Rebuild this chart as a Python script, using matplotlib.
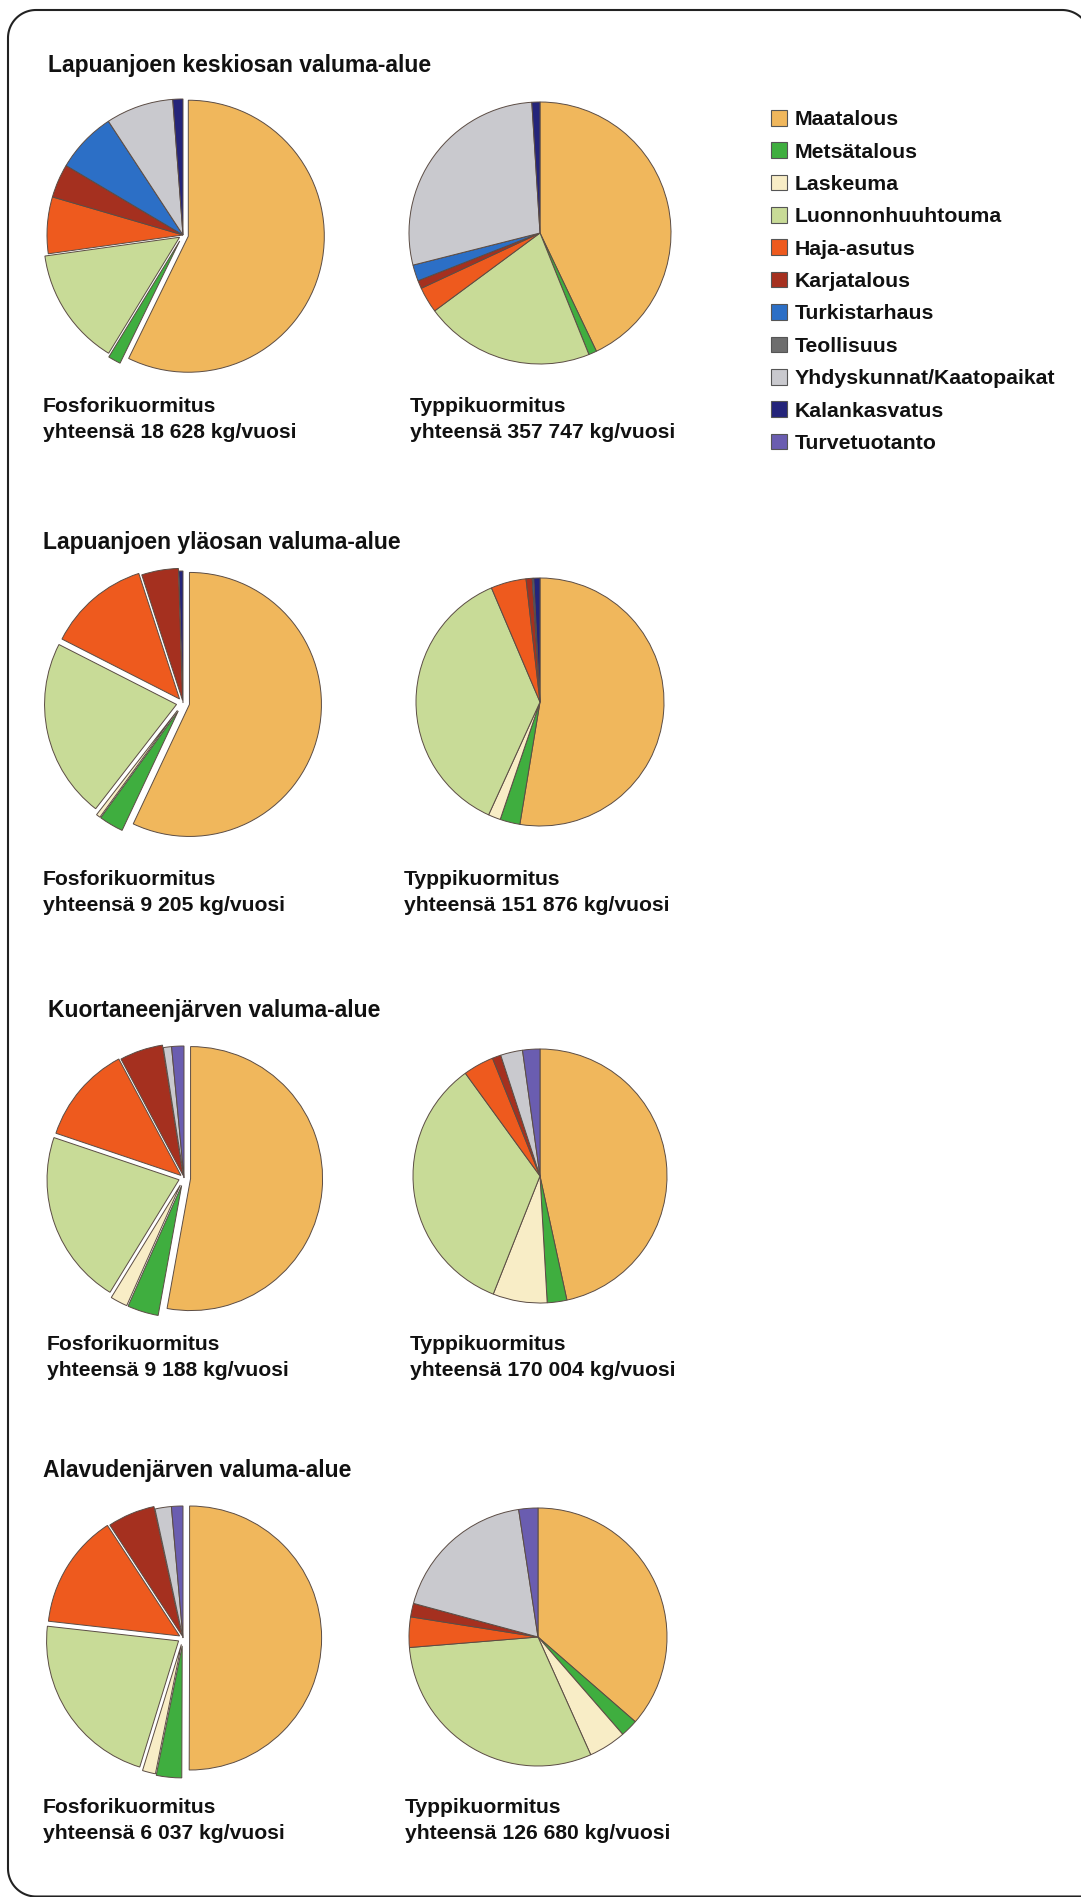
import numpy as np
import matplotlib
matplotlib.use("Agg")
import matplotlib.pyplot as plt
from matplotlib.patches import Patch, PathPatch
from matplotlib.path import Path
from matplotlib.transforms import IdentityTransform

# Load sources (share of total load, %) in clockwise order from 12 o'clock
categories = ["Maatalous", "Metsätalous", "Laskeuma", "Luonnonhuuhtouma",
              "Haja-asutus", "Karjatalous", "Turkistarhaus", "Teollisuus",
              "Yhdyskunnat/Kaatopaikat", "Kalankasvatus", "Turvetuotanto"]

areas = ["Lapuanjoen keskiosan valuma-alue",
         "Lapuanjoen yläosan valuma-alue",
         "Kuortaneenjärven valuma-alue",
         "Alavudenjärven valuma-alue"]

phosphorus_totals = ["18 628", "9 205", "9 188", "6 037"]
nitrogen_totals = ["357 747", "151 876", "170 004", "126 680"]

p_keskiosa = [57.0, 1.5, 0.0, 14.0, 6.7, 4.0, 7.2, 0.0, 8.0, 1.2, 0.0]
n_keskiosa = [43.0, 1.0, 0.0, 21.0, 3.2, 1.0, 2.0, 0.0, 28.0, 1.0, 0.0]
p_ylaosa = [57.0, 3.0, 0.5, 22.0, 12.5, 4.5, 0.0, 0.0, 0.0, 0.5, 0.0]
n_ylaosa = [52.6, 2.6, 1.6, 36.8, 4.6, 0.8, 0.2, 0.0, 0.0, 0.8, 0.0]
p_kuortane = [52.8, 3.8, 2.1, 21.4, 12.0, 5.3, 0.0, 0.0, 1.0, 0.0, 1.5]
n_kuortane = [46.6, 2.5, 6.9, 34.0, 3.9, 1.1, 0.0, 0.0, 2.8, 0.0, 2.2]
p_alavus = [50.0, 3.1, 1.6, 22.0, 14.0, 5.8, 0.0, 0.0, 2.0, 0.0, 1.4]
n_alavus = [36.4, 2.2, 4.7, 30.4, 3.8, 1.7, 0.0, 0.0, 18.4, 0.0, 2.4]

phosphorus = [p_keskiosa, p_ylaosa, p_kuortane, p_alavus]
nitrogen = [n_keskiosa, n_ylaosa, n_kuortane, n_alavus]

# ---- styling ----
colors = ["#F0B75C", "#3FAE3F", "#F8EDC6", "#C8DB97", "#EE5A1E", "#A5301F",
          "#2C6FC6", "#6E6E6E", "#C9C9CE", "#24247A", "#6A5DB0"]
p_explode = [
    [0.04, 0.05, 0.0, 0.03, 0.0, 0.0, 0.0, 0.0, 0.0, 0.0, 0.0],
    [0.05, 0.07, 0.07, 0.05, 0.04, 0.02, 0.0, 0.0, 0.0, 0.0, 0.0],
    [0.05, 0.06, 0.06, 0.04, 0.03, 0.02, 0.0, 0.0, 0.0, 0.0, 0.0],
    [0.05, 0.06, 0.05, 0.04, 0.03, 0.02, 0.0, 0.0, 0.0, 0.0, 0.0],
]

W, H = 1081, 1897
fig = plt.figure(figsize=(W / 100, H / 100), dpi=100)
fig.patch.set_facecolor("white")

FONT = ["Liberation Sans", "DejaVu Sans"]
TEXT_COLOR = "#111111"


def fx(x):
    return x / W


def fy(y):
    return 1 - y / H


def draw_pie(cx, cy, r, values, explode=None):
    pad = 1.15
    ax = fig.add_axes([fx(cx - r * pad), fy(cy + r * pad),
                       2 * r * pad / W, 2 * r * pad / H])
    vals, cols, expl = [], [], []
    for i, v in enumerate(values):
        if v > 0:
            vals.append(v)
            cols.append(colors[i])
            expl.append(explode[i] if explode else 0.0)
    ax.pie(vals, colors=cols, explode=expl, startangle=90, counterclock=False,
           radius=1.0, normalize=True,
           wedgeprops=dict(edgecolor="#5b4c44", linewidth=0.7))
    ax.set_aspect("auto")
    ax.set_xlim(-pad, pad)
    ax.set_ylim(-pad, pad)
    ax.axis("off")


# pie geometry (pixel centre, radius)
p_geom = [(183, 235, 136), (183, 703, 132), (184, 1178, 132), (183, 1638, 132)]
n_geom = [(540, 233, 131), (540, 702, 124), (540, 1176, 127), (538, 1637, 129)]
title_x = [48, 43, 48, 43]
title_y = [72, 549, 1017, 1477]
p_label_x = [43, 43, 47, 43]
n_label_x = [410, 404, 410, 405]
label_y = [412, 885, 1350, 1813]
line_gap = 26

for k in range(4):
    cx, cy, r = p_geom[k]
    draw_pie(cx, cy, r, phosphorus[k], p_explode[k])
    cx, cy, r = n_geom[k]
    draw_pie(cx, cy, r, nitrogen[k])

    fig.text(fx(title_x[k]), fy(title_y[k]), areas[k], family=FONT,
             weight="bold", fontsize=16.5, va="baseline", ha="left",
             color=TEXT_COLOR)
    fig.text(fx(p_label_x[k]), fy(label_y[k]), "Fosforikuormitus",
             family=FONT, weight="bold", fontsize=15.2, va="baseline",
             color=TEXT_COLOR)
    fig.text(fx(p_label_x[k]), fy(label_y[k] + line_gap),
             f"yhteensä {phosphorus_totals[k]} kg/vuosi", family=FONT,
             weight="bold", fontsize=15.2, va="baseline", color=TEXT_COLOR)
    fig.text(fx(n_label_x[k]), fy(label_y[k]), "Typpikuormitus",
             family=FONT, weight="bold", fontsize=15.2, va="baseline",
             color=TEXT_COLOR)
    fig.text(fx(n_label_x[k]), fy(label_y[k] + line_gap),
             f"yhteensä {nitrogen_totals[k]} kg/vuosi", family=FONT,
             weight="bold", fontsize=15.2, va="baseline", color=TEXT_COLOR)

# legend
handles = [Patch(facecolor=c, edgecolor="#555555", linewidth=0.8) for c in colors]
leg = fig.legend(handles, categories, loc="upper left",
                 bbox_to_anchor=(fx(771), fy(110)), frameon=False,
                 prop=dict(family=FONT, weight="bold", size=15.3),
                 handlelength=0.75, handleheight=0.75, handletextpad=0.38,
                 labelspacing=0.62, borderaxespad=0, borderpad=0)
for t in leg.get_texts():
    t.set_color(TEXT_COLOR)


# rounded outer frame, traced in pixel coordinates (y downwards)
def arc(cx, cy, r, a0, a1, n=24):
    t = np.radians(np.linspace(a0, a1, n))
    return list(zip(cx + r * np.cos(t), cy + r * np.sin(t)))


rad = 28
left, top, right, bottom = 8, 10, 1090, 1896.5
pts = [(1081, bottom)]
pts += arc(left + rad, bottom - rad, rad, 90, 180)
pts += arc(left + rad, top + rad, rad, 180, 270)
pts += arc(right - rad, top + rad, rad, 270, 318)
verts = [(x, H - y) for x, y in pts]
frame = PathPatch(Path(verts), transform=IdentityTransform(), fill=False,
                  edgecolor="#222222", linewidth=1.5, capstyle="butt")
fig.patches.append(frame)

fig.savefig("out.png", dpi=100, facecolor="white")
